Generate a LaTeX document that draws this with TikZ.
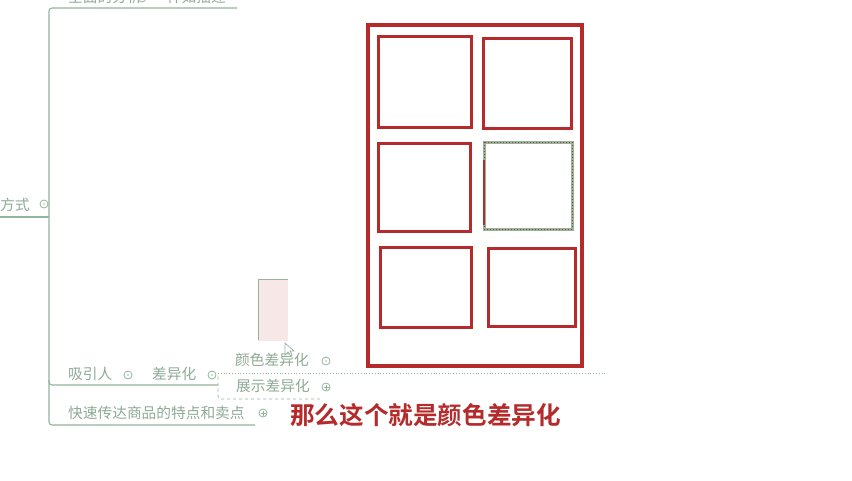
\documentclass[tikz,border=0pt]{standalone}
\usepackage{fontspec}
\usetikzlibrary{calc}
\newfontfamily\cjk{Noto Sans CJK SC}
\newfontfamily\cjkb{Noto Sans CJK SC Bold}
\definecolor{mmgreen}{HTML}{93B59C}
\definecolor{mmtext}{HTML}{8FAA96}
\definecolor{frame}{HTML}{B52B2B}
\definecolor{dotpink}{HTML}{E39A9A}
\tikzset{
  mmline/.style={draw=mmgreen, line width=1.1pt},
  mmtxt/.style={font=\cjk\fontsize{14.7}{14.7}\selectfont, text=mmtext, inner sep=0pt, anchor=west},
  togdot/.style={circle, draw=mmgreen, line width=0.8pt, minimum size=8pt, inner sep=0pt},
  phone/.style={draw=frame, line width=3.2pt},
  cell/.style={draw=frame, line width=3pt},
  caption/.style={font=\cjkb\fontsize{24.6}{24.6}\selectfont, text=frame, inner sep=0pt, anchor=west}
}
\begin{document}
\begin{tikzpicture}[x=1pt,y=-1pt]
\useasboundingbox (0,0) rectangle (852,480);
\fill[white] (0,0) rectangle (852,480);
% clipped top branch
\begin{scope}
\clip (0,0) rectangle (852,480);
\node[mmtxt] (top1) at (68,-3) {全面的分析};
\node[togdot] (topc) at (142,-2) {};
\node[mmtxt] (top2) at (152,-3) {一样如描述};
\end{scope}
% main vertical trunk
\coordinate (trunkTop) at (49,8);
\coordinate (trunkBot) at (49,425);
\draw[mmline, rounded corners=3pt] (237,8) -- (trunkTop) -- (49,385) -- (218,385);
\draw[mmline, rounded corners=3pt] (49,380) -- (trunkBot) -- (255,425);
% 方式
\node[mmtxt] (fs) at (0,205) {方式};
\node[togdot] (fsc) at (44,204) {};
\fill[dotpink] (fsc) circle (0.8pt);
\draw[mmline] (0,217) -- (49,217);
% 吸引人 branch
\node[mmtxt] (xyr) at (68,374) {吸引人};
\node[togdot] (xyrc) at (128,375) {};
\fill[mmgreen] (xyrc) circle (0.8pt);
\node[mmtxt] (cyh) at (152,374) {差异化};
\node[togdot] (cyhc) at (212,375) {};
\fill[mmgreen] (cyhc) circle (0.8pt);
% children
\node[mmtxt] (ys) at (235,360) {颜色差异化};
\node[togdot] (ysc) at (326,361) {};
\fill[dotpink] (ysc) circle (0.8pt);
\draw[draw=mmgreen, line width=0.8pt, dotted] (218,373) -- (605,373);
\node[mmtxt] (zs) at (236,386) {展示差异化};
\node[togdot] (zsc) at (326,387) {};
\draw[mmgreen, line width=0.7pt] ($(zsc)+(-2.5,0)$) -- ($(zsc)+(2.5,0)$) ($(zsc)+(0,-2.5)$) -- ($(zsc)+(0,2.5)$);
\draw[draw=mmgreen, line width=0.8pt, dashed, rounded corners=3pt] (320,399) -- (218,399) -- (218,374);
% 快速 branch
\node[mmtxt] (ks) at (68,413) {快速传达商品的特点和卖点};
\node[togdot] (ksc) at (263,413) {};
\draw[mmgreen, line width=0.7pt] ($(ksc)+(-2.5,0)$) -- ($(ksc)+(2.5,0)$) ($(ksc)+(0,-2.5)$) -- ($(ksc)+(0,2.5)$);
% dotted swatch
\foreach \i in {0,...,14} {\foreach \j in {0,...,30} {\fill[dotpink] (259+2*\i,280+2*\j) circle (0.55pt);}}
\draw[mmgreen, line width=0.9pt] (258,340) -- (258,279) -- (288,279);
% cursor
\draw[mmgreen, fill=white, line width=0.7pt] (285,343) -- (285,355) -- (288,352) -- (291,356) -- (292,355) -- (290,351) -- (294,351) -- cycle;
% phone frame
\draw[phone] (368,25) rectangle (582,366);
\draw[cell] (378,36) rectangle (471,127);
\draw[cell] (483,38) rectangle (571,128);
\draw[cell] (378,143) rectangle (470,231);
\draw[draw=mmgreen, line width=3pt] (484,142) rectangle (572,229);
\draw[draw=frame, line width=1pt, dotted] (484,142) rectangle (572,229);
\draw[draw=frame, line width=1.8pt] (484,160) -- (484,225);
\draw[cell] (380,247) rectangle (471,327);
\draw[cell] (488,248) rectangle (575,326);
% caption
\node[caption] (cap) at (290,415) {那么这个就是颜色差异化};
\end{tikzpicture}
\end{document}
